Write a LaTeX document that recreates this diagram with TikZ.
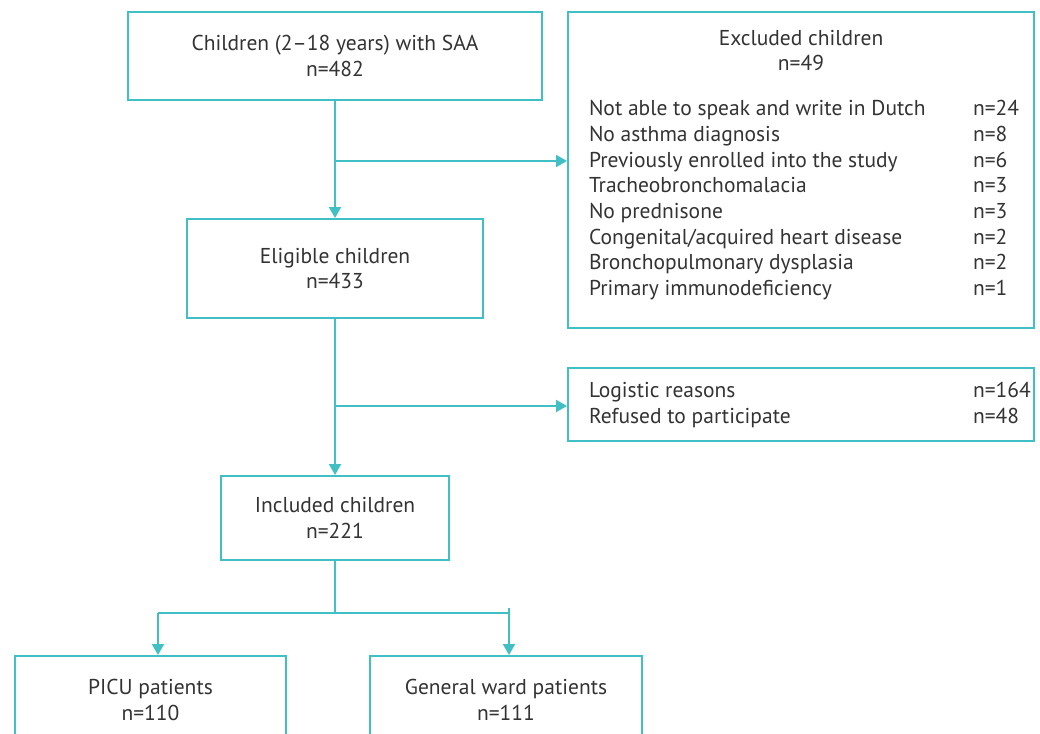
\documentclass[tikz,border=0pt]{standalone}
\usepackage{fontspec}
\setmainfont{PT Sans}
\usepackage{xcolor}
\usepackage{tikz}
\usetikzlibrary{arrows.meta,positioning,shapes}

\definecolor{flowteal}{RGB}{64,192,197}
\definecolor{txtgray}{RGB}{51,51,51}

\begin{document}
\begin{tikzpicture}[x=1pt, y=-1pt, line width=2pt,
		every node/.style={text=txtgray, font=\fontsize{21.5}{25.6}\selectfont},
		box/.style={draw=flowteal, rectangle, align=center, inner sep=0pt},
		flow/.style={draw=flowteal, -{Triangle[length=11pt,width=12pt]}},
		link/.style={draw=flowteal}]
		\useasboundingbox (0,0) rectangle (1040,733);
		\clip (0,0) rectangle (1040,733);
		% all children
		\node[box, minimum width=414pt, minimum height=88pt] (start) at (335,56) {Children (2--18 years) with SAA\\n=482};
		% excluded
		\node[box, minimum width=466pt, minimum height=316pt] (excl) at (801,170) {};
		\node[anchor=base] (excl-title) at (801,46) {Excluded children};
		\node[anchor=base] (excl-n) at (801,71) {n=49};
		\foreach \reason/\num [count=\i] in {Not able to speak and write in Dutch/24, No asthma diagnosis/8,
			Previously enrolled into the study/6, Tracheobronchomalacia/3, No prednisone/3,
			{Congenital/acquired heart disease}/2, Bronchopulmonary dysplasia/2, Primary immunodeficiency/1}{
			\node[anchor=base west, inner sep=0pt] (excl-reason-\i) at (588,{116+25.6*(\i-1)}) {\reason};
			\node[anchor=base west, inner sep=0pt] (excl-num-\i) at (972,{116+25.6*(\i-1)}) {n=\num};
		}
		% eligible
		\node[box, minimum width=296pt, minimum height=99pt] (elig) at (335,268.5) {Eligible children\\n=433};
		% not included
		\node[box, minimum width=466pt, minimum height=73pt] (drop) at (801,404.5) {};
		\foreach \reason/\num [count=\i] in {Logistic reasons/164, Refused to participate/48}{
			\node[anchor=base west, inner sep=0pt] (drop-reason-\i) at (588,{397+26*(\i-1)}) {\reason};
			\node[anchor=base west, inner sep=0pt] (drop-num-\i) at (972,{397+26*(\i-1)}) {n=\num};
		}
		% included
		\node[box, minimum width=228pt, minimum height=84pt] (incl) at (335,518) {Included children\\n=221};
		% groups
		\node[box, minimum width=271pt, minimum height=88pt] (picu) at (150.5,700) {PICU patients\\n=110};
		\node[box, minimum width=272pt, minimum height=88pt] (ward) at (506,700) {General ward patients\\n=111};
		% connectors
		\coordinate (excl-branch) at (335,161);
		\coordinate (drop-branch) at (335,406);
		\coordinate (split) at (335,613);
		\coordinate (split-l) at (158,613);
		\coordinate (split-r) at (509,608);
		\draw[flow] (start.south) -- (elig.north);
		\draw[flow] (excl-branch) -- (excl-branch -| excl.west);
		\draw[flow] (elig.south) -- (incl.north);
		\draw[flow] (drop-branch) -- (drop-branch -| drop.west);
		\draw[link] (incl.south) -- (split);
		\draw[link] (split-l) -- (split-l -| split-r);
		\draw[flow] (split-l) -- (split-l |- picu.north);
		\draw[flow] (split-r) -- (split-r |- ward.north);
	\end{tikzpicture}
\end{document}
